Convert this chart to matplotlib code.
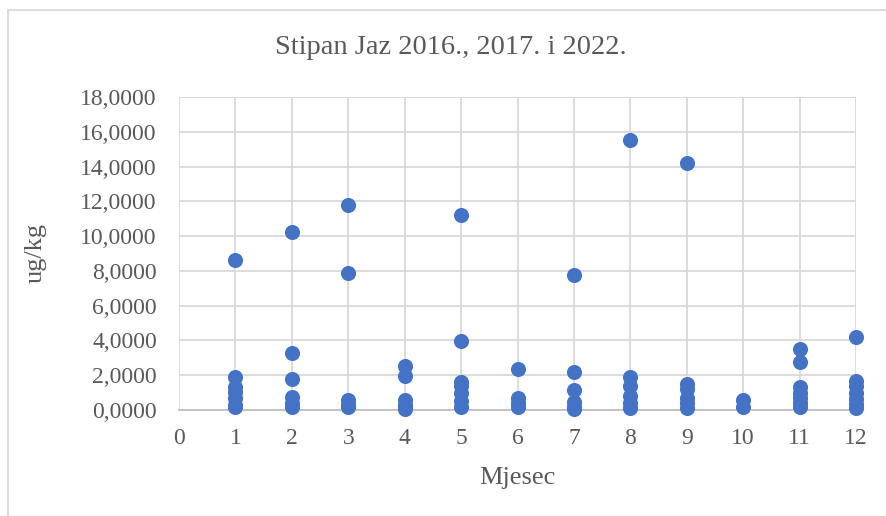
import matplotlib
matplotlib.use('Agg')
import matplotlib.pyplot as plt
from matplotlib.ticker import FuncFormatter
from matplotlib.lines import Line2D

# measured values per month (ug/kg)
m1 = [8.6, 1.9, 1.3, 1.05, 0.7, 0.3, 0.2]
m2 = [10.25, 3.3, 1.8, 0.75, 0.4, 0.2]
m3 = [11.8, 7.9, 0.6, 0.3, 0.15]
m4 = [2.55, 1.95, 0.6, 0.3, 0.1, 0.05]
m5 = [11.2, 3.95, 1.6, 1.4, 0.95, 0.5, 0.2]
m6 = [2.35, 0.7, 0.4, 0.15]
m7 = [7.75, 2.2, 1.15, 0.45, 0.2, 0.05]
m8 = [15.5, 1.9, 1.4, 0.8, 0.4, 0.1]
m9 = [14.2, 1.5, 1.2, 0.7, 0.4, 0.1]
m10 = [0.55, 0.2]
m11 = [3.5, 2.75, 1.35, 1.0, 0.7, 0.4, 0.2]
m12 = [4.2, 1.65, 1.4, 1.0, 0.65, 0.35, 0.1]
months = [m1, m2, m3, m4, m5, m6, m7, m8, m9, m10, m11, m12]

x = []
y = []
for i, vals in enumerate(months):
  x += [i + 1] * len(vals)
  y += vals

plt.rcParams['font.family'] = ['Liberation Serif', 'DejaVu Serif']
txt = '#595959'

W, H = 886, 516
fig = plt.figure(figsize=(8.86, 5.16), dpi=100)
ax = fig.add_axes([179/W, 1-410/H, (856-179)/W, (410-97)/H])

ax.scatter(x, y, s=118, color='#4472C4', zorder=3, linewidths=0, clip_on=False)

ax.set_xlim(0, 12)
ax.set_ylim(0, 18)
ax.set_xticks(range(0, 13))
ax.set_yticks(range(0, 19, 2))
ax.yaxis.set_major_formatter(FuncFormatter(lambda v, p: ('%.4f' % v).replace('.', ',')))
ax.grid(True, color='#D9D9D9', linewidth=1.3, zorder=0)
ax.tick_params(length=0, labelsize=17, colors=txt)
ax.tick_params(axis='y', pad=16)
ax.tick_params(axis='x', pad=13)
for s in ['top', 'right', 'left']:
  ax.spines[s].set_visible(False)
ax.spines['bottom'].set_color('#BFBFBF')
ax.spines['bottom'].set_linewidth(1.3)

fig.text(451/W, 1-48/H, 'Stipan Jaz 2016., 2017. i 2022.', fontsize=20.5, color=txt,
         ha='center', va='center')
fig.text(517/W, 1-478/H, 'Mjesec', fontsize=19, color=txt, ha='center', va='center')
fig.text(36/W, 1-253/H, 'ug/kg', fontsize=19, color=txt, ha='center', va='center',
         rotation=90)

# chart frame
fig.add_artist(Line2D([8/W, 8/W], [0, 1-10/H], color='#D9D9D9', lw=1.3, transform=fig.transFigure))
fig.add_artist(Line2D([8/W, 1], [1-10/H, 1-10/H], color='#D9D9D9', lw=1.3, transform=fig.transFigure))

fig.savefig('out.png', dpi=100)
plt.close()
